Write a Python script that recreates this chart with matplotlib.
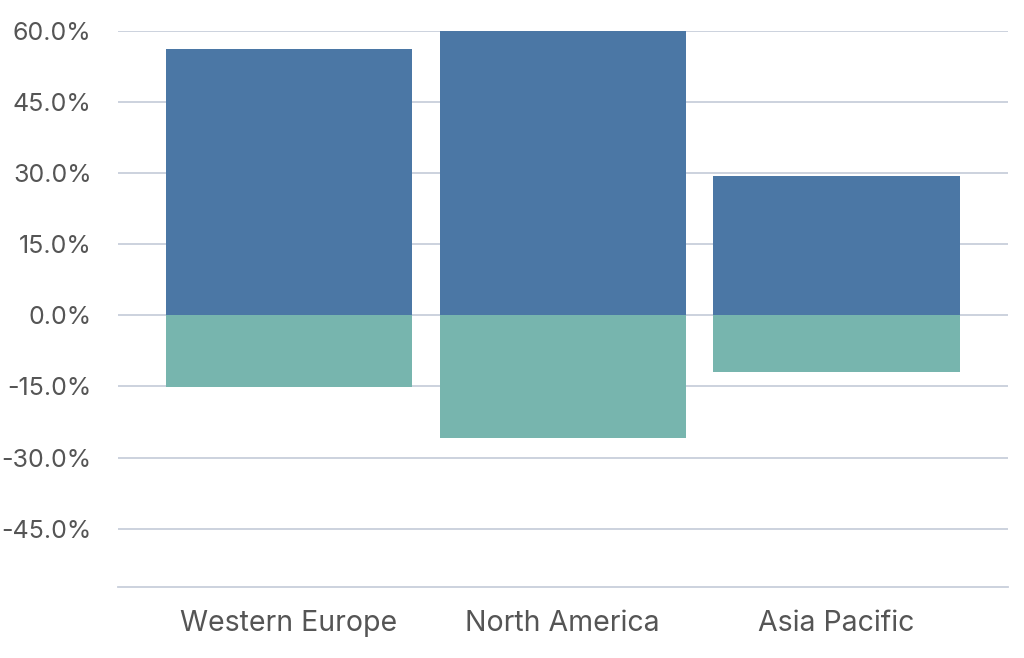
import numpy as np
import matplotlib.pyplot as plt
from matplotlib.ticker import FuncFormatter

plt.rcParams['font.family'] = ['Inter', 'DejaVu Sans']

regions = ['Western Europe', 'North America', 'Asia Pacific']
upside = [56.3, 60.0, 29.4]
downside = [-15.2, -25.8, -11.9]

blue = '#4b77a5'
teal = '#77b5ae'
grid_col = '#c8cfdb'
text_col = '#555555'

fig = plt.figure(figsize=(10.24, 6.58), dpi=100)
ax = fig.add_axes([0.1152, 0.108, 0.8688, 0.8449])

x = np.arange(len(regions))
ax.bar(x, upside, width=0.9, color=blue, zorder=3)
ax.bar(x, downside, width=0.9, color=teal, zorder=3)

ax.set_xlim(-0.625, 2.625)
ax.set_ylim(-57.3, 60)
ax.set_yticks([60, 45, 30, 15, 0, -15, -30, -45])
ax.yaxis.set_major_formatter(FuncFormatter(lambda v, p: f'{v:.1f}%'))
ax.set_xticks(x)
ax.set_xticklabels(regions)

ax.grid(axis='y', color=grid_col, linewidth=1.3, zorder=0)
for s in ['top', 'right', 'left']:
    ax.spines[s].set_visible(False)
ax.spines['bottom'].set_color(grid_col)
ax.spines['bottom'].set_linewidth(1.3)

ax.tick_params(axis='y', length=0, pad=19, labelsize=18, labelcolor=text_col)
ax.tick_params(axis='x', length=0, pad=16.5, labelsize=20.5, labelcolor=text_col)

fig.savefig('out.png', dpi=100)
